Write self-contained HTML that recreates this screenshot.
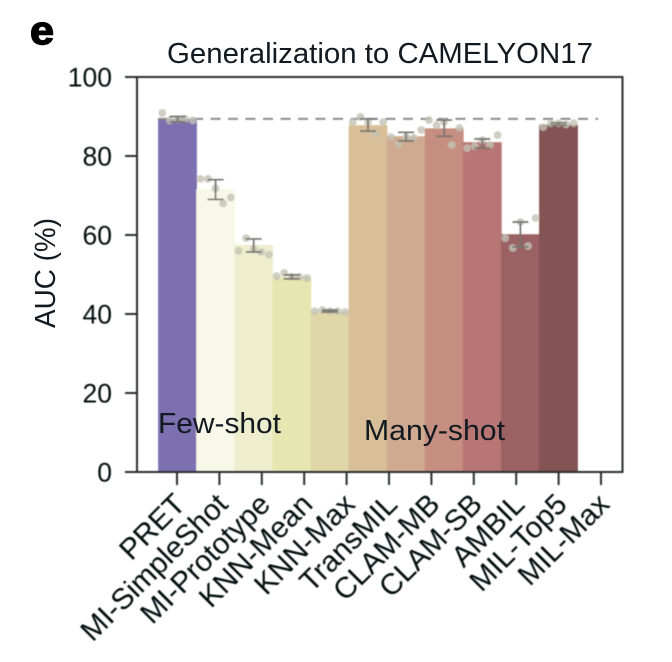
<!DOCTYPE html>
<html>
<head>
<meta charset="utf-8">
<style>
html,body{margin:0;padding:0;background:#fff;width:672px;height:662px;overflow:hidden}
svg{display:block;font-family:"Liberation Sans",sans-serif}
text{fill:#111a20}
#axes text{fill:#040a10}
</style>
</head>
<body>
<svg id="chart" width="672" height="662" viewBox="0 0 672 662" xmlns="http://www.w3.org/2000/svg">
  <defs><filter id="soft" x="-5%" y="-5%" width="110%" height="110%"><feGaussianBlur stdDeviation="0.4"/></filter></defs>
  <g id="marks" filter="url(#soft)"></g>
  <g id="axes" filter="url(#soft)"></g>
  <text x="30" y="44" font-size="40" font-weight="bold" textLength="24" lengthAdjust="spacingAndGlyphs" style="fill:#000;stroke:#000;stroke-width:1.4">e</text>
  <text x="167" y="63" font-size="29" textLength="426" lengthAdjust="spacingAndGlyphs">Generalization to CAMELYON17</text>
  <text transform="translate(55,328) rotate(-90)" font-size="29" textLength="110" lengthAdjust="spacingAndGlyphs">AUC (%)</text>
  <text x="158" y="433" font-size="29" textLength="123" lengthAdjust="spacingAndGlyphs">Few-shot</text>
  <text x="364" y="440" font-size="29" textLength="141" lengthAdjust="spacingAndGlyphs">Many-shot</text>
</svg>
<script>
const categories = ['PRET','MI-SimpleShot','MI-Prototype','KNN-Mean','KNN-Max','TransMIL','CLAM-MB','CLAM-SB','AMBIL','MIL-Top5','MIL-Max'];
const aucMeans = [89.4,71.6,57.5,49.4,40.6,87.8,85.0,87.0,83.5,60.2,87.9];
const errorHigh = [90.0,74.0,59.0,49.9,41.0,89.4,86.0,89.1,84.3,63.3,88.4];
const errorLow = [88.6,69.0,55.7,48.9,40.5,86.3,83.8,85.0,82.0,57.0,87.8];
const replicateValues = [
  [90.9,89.0,89.2,89.4,89.0],
  [74.2,74.2,71.8,68.0,69.5],
  [56.0,59.2,56.5,55.7,55.0],
  [49.6,50.4,49.4,49.4,49.1],
  [40.7,41.0,40.7,40.7,40.5],
  [88.6,89.9,88.6,85.6,88.6],
  [84.8,83.0,84.8,84.6,86.6],
  [89.1,87.8,88.6,82.8,87.1],
  [82.0,82.5,84.0,82.8,85.3],
  [59.2,56.7,63.3,57.2,64.3],
  [87.3,88.3,88.3,88.0,88.3]
];
const barColors = ['#7b6fb0','#f8f8e8','#eeeecf','#e5e6b0','#e0d7a8','#d9bf98','#cfaa90','#c58e80','#b77473','#9c6264','#845353'];
const yTicks = [0,20,40,60,80,100];
const referenceLevel = 89.4;

const NS = 'http://www.w3.org/2000/svg';
const marks = document.getElementById('marks');
const axes = document.getElementById('axes');
const yScale = v => 472 - v * 3.95;
const barCenter = i => 177.5 + i * 38.1;
const tickX = i => 177 + i * 42.4;
const AXIS = '#2a2d30';

function make(parent, tag, props) {
  const el = document.createElementNS(NS, tag);
  for (const k in props) el.setAttribute(k, props[k]);
  parent.appendChild(el);
  return el;
}

categories.forEach((name, i) => {
  const bar = make(marks, 'rect', {x: barCenter(i) - 19.4, y: yScale(aucMeans[i]), width: 38.8, height: 472 - yScale(aucMeans[i]), fill: barColors[i]});
  
  
});

const refLine = make(marks, 'line', {x1: 158, x2: 598, y1: yScale(referenceLevel), y2: yScale(referenceLevel), stroke: '#8a8a8a', 'stroke-width': 2, 'stroke-dasharray': '10 7.5'});



categories.forEach((name, i) => {
  replicateValues[i].forEach((v, j) => {
    const dot = make(marks, 'circle', {cx: barCenter(i) + (j - 2) * 7.6, cy: yScale(v), r: 3.9, fill: '#c2c2b4', opacity: 0.8});
    
    
  });
  const cx = barCenter(i), hi = yScale(errorHigh[i]), lo = yScale(errorLow[i]);
  const err = make(marks, 'path', {d: `M${cx - 8} ${hi}H${cx + 8}M${cx} ${hi}V${lo}M${cx - 8} ${lo}H${cx + 8}`, fill: 'none', stroke: '#77736e', 'stroke-width': 1.7});
  
  
});

const frame = make(axes, 'path', {d: 'M137 77H622.5V472H137Z', fill: 'none', stroke: AXIS, 'stroke-width': 2});



yTicks.forEach(t => {
  const tick = make(axes, 'line', {x1: 125, x2: 137, y1: yScale(t), y2: yScale(t), stroke: AXIS, 'stroke-width': 2});
  
  
  const label = make(axes, 'text', {x: 112, y: yScale(t) + 9.5, 'font-size': 26.5, 'text-anchor': 'end'});
  
  
  label.textContent = t;
});

categories.forEach((name, i) => {
  const tick = make(axes, 'line', {x1: tickX(i), x2: tickX(i), y1: 472, y2: 485, stroke: AXIS, 'stroke-width': 2});
  
  
  const label = make(axes, 'text', {transform: `translate(${tickX(i) + 10},${506}) rotate(-45)`, 'font-size': 29.5, 'text-anchor': 'end'});
  
  
  label.textContent = name;
});
</script>
</body>
</html>
